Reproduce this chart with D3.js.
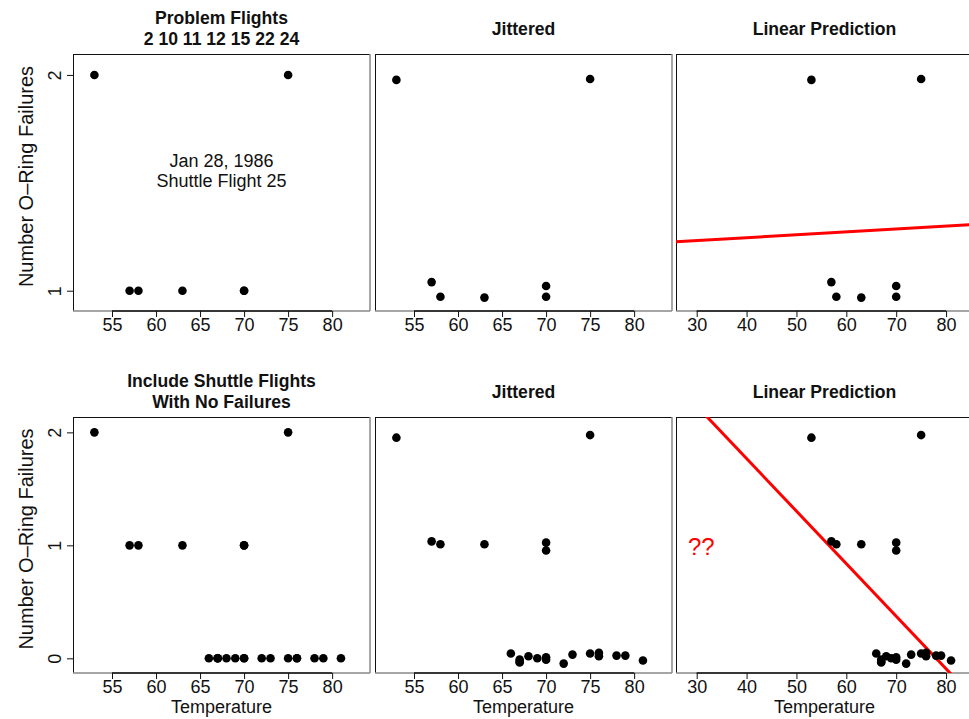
<!DOCTYPE html>
<html>
<head>
<meta charset="utf-8">
<script src="https://cdn.jsdelivr.net/npm/d3@7"></script>
<style>
  body { margin: 0; background: #fff; }
  text { font-family: "Liberation Sans", Arial, Helvetica, sans-serif; }
</style>
</head>
<body>
<svg id="chart" width="969" height="719"></svg>
<script>
// flights with at least one O-ring failure
const probTemp = [53, 57, 58, 63, 70, 70, 75];
const probFail = [2, 1, 1, 1, 1, 1, 2];
const probJit  = [1.977, 1.040, 0.972, 0.968, 1.022, 0.972, 1.981];

// all 23 flights before Jan 28, 1986 (sorted by temperature)
const allTemp = [53, 57, 58, 63, 66, 67, 67, 67, 68, 69, 70, 70, 70, 70, 72, 73, 75, 75, 76, 76, 78, 79, 81];
const allFail = [2, 1, 1, 1, 0, 0, 0, 0, 0, 0, 1, 1, 0, 0, 0, 0, 2, 0, 0, 0, 0, 0, 0];
const allJit  = [1.953, 1.035, 1.009, 1.009, 0.042, -0.010, -0.030, -0.036, 0.018, 0.000,
                 1.024, 0.954, 0.009, -0.012, -0.047, 0.033, 1.976, 0.042, 0.048, 0.018,
                 0.024, 0.024, -0.020];

// least squares lines: [temperature, failures] at both ends
const fitProb = [[25, 1.226], [86, 1.307]];
const fitAll  = [[25, 2.466], [86, -0.372]];

const xTicksNarrow = [55, 60, 65, 70, 75, 80];
const xTicksWide   = [30, 40, 50, 60, 70, 80];
const yTicksProb   = [1, 2];
const yTicksAll    = [0, 1, 2];

const note = ["Jan 28, 1986", "Shuttle Flight 25"];

const svg = d3.select("#chart");

// plot regions in pixels
const cols = [[73, 370], [375, 672], [676, 973]];
const rows = [[54, 311], [417, 673]];

// axis limits (R style, already padded)
const xNarrow = [50.57, 84.3];
const xWide = [25.85, 85.4];
const yProb = [0.906, 2.097];
const yAll = [-0.13, 2.136];

const panels = [
  {col: 0, row: 0, title: ["Problem Flights", "2 10 11 12 15 22 24"], xd: xNarrow, yd: yProb,
   xt: xTicksNarrow, yt: yTicksProb, tx: probTemp, ty: probFail},
  {col: 1, row: 0, title: ["Jittered"], xd: xNarrow, yd: yProb,
   xt: xTicksNarrow, tx: probTemp, ty: probJit},
  {col: 2, row: 0, title: ["Linear Prediction"], xd: xWide, yd: yProb,
   xt: xTicksWide, tx: probTemp, ty: probJit, fit: fitProb},
  {col: 0, row: 1, title: ["Include Shuttle Flights", "With No Failures"], xd: xNarrow, yd: yAll,
   xt: xTicksNarrow, yt: yTicksAll, tx: allTemp, ty: allFail},
  {col: 1, row: 1, title: ["Jittered"], xd: xNarrow, yd: yAll,
   xt: xTicksNarrow, tx: allTemp, ty: allJit},
  {col: 2, row: 1, title: ["Linear Prediction"], xd: xWide, yd: yAll,
   xt: xTicksWide, tx: allTemp, ty: allJit, fit: fitAll}
];

panels.forEach(function(p, i) {
  const [left, right] = cols[p.col];
  const [top, bottom] = rows[p.row];
  const x = d3.scaleLinear().domain(p.xd).range([left, right]);
  const y = d3.scaleLinear().domain(p.yd).range([bottom, top]);
  const g = svg.append("g");

  // clip for the fitted line
  g.append("clipPath").attr("id", "clip" + i)
    .append("rect").attr("x", left).attr("y", top)
    .attr("width", right - left).attr("height", bottom - top);

  // box: R antialiasing leaves right/bottom lighter
  g.append("line").attr("x1", left).attr("x2", right).attr("y1", top + 0.5).attr("y2", top + 0.5)
    .attr("stroke", "#111");
  g.append("line").attr("x1", left + 0.5).attr("x2", left + 0.5).attr("y1", top).attr("y2", bottom)
    .attr("stroke", "#111");
  g.append("line").attr("x1", right).attr("x2", right).attr("y1", top).attr("y2", bottom)
    .attr("stroke", "#888").attr("stroke-width", 1.5);
  g.append("line").attr("x1", left).attr("x2", right).attr("y1", bottom).attr("y2", bottom)
    .attr("stroke", "#888").attr("stroke-width", 1.5);

  // x axis, line only between first and last tick
  const xa = g.append("g").attr("transform", "translate(0," + bottom + ")")
    .call(d3.axisBottom(x).tickValues(p.xt).tickSize(6).tickPadding(1.5));
  xa.select(".domain").attr("d", "M" + x(p.xt[0]) + ",0H" + x(p.xt[p.xt.length - 1]))
    .attr("stroke", "#111").attr("stroke-width", 1.5);
  xa.selectAll(".tick line").attr("stroke", "#111");
  xa.selectAll("text").attr("font-size", 18).attr("fill", "#111")
    .style("font-family", "'Liberation Sans', Arial, sans-serif");

  if (p.yt) {
    const ya = g.append("g").attr("transform", "translate(" + left + ",0)")
      .call(d3.axisLeft(y).tickValues(p.yt).tickSize(6).tickFormat(d3.format("d")));
    ya.select(".domain").remove();
    ya.selectAll(".tick line").attr("stroke", "#111");
    ya.selectAll("text").attr("x", null).attr("dy", null)
      .attr("text-anchor", "middle").attr("font-size", 18).attr("fill", "#111")
      .attr("transform", "translate(-12,0) rotate(-90)")
      .style("font-family", "'Liberation Sans', Arial, sans-serif");
    // axis title
    g.append("text")
      .attr("transform", "translate(33," + ((top + bottom) / 2 - 6) + ") rotate(-90)")
      .attr("text-anchor", "middle").attr("font-size", 20).attr("fill", "#111")
      .text("Number O\u2013Ring Failures");
  }

  if (p.row === 1) {
    g.append("text").attr("x", (left + right) / 2).attr("y", bottom + 40)
      .attr("text-anchor", "middle").attr("font-size", 18).attr("fill", "#111")
      .text("Temperature");
  }

  // panel title
  const base = p.title.length === 2 ? [top - 30, top - 9] : [top - 19];
  p.title.forEach(function(t, k) {
    g.append("text").attr("x", (left + right) / 2).attr("y", base[k])
      .attr("text-anchor", "middle").attr("font-size", 17.6).attr("font-weight", "bold")
      .attr("fill", "#111").text(t);
  });

  if (p.fit) {
    g.append("path").datum(p.fit)
      .attr("clip-path", "url(#clip" + i + ")")
      .attr("d", d3.line().x(d => x(d[0])).y(d => y(d[1])))
      .attr("stroke", "#ff0000").attr("stroke-width", 3).attr("fill", "none");
  }

  g.selectAll("circle.pt").data(d3.range(p.tx.length)).join("circle")
    .attr("class", "pt")
    .attr("cx", k => x(p.tx[k]))
    .attr("cy", k => y(p.ty[k]))
    .attr("r", 4.3).attr("fill", "#000");

  if (i === 0) {
    note.forEach(function(t, k) {
      g.append("text").attr("x", (left + right) / 2).attr("y", 167 + k * 20)
        .attr("text-anchor", "middle").attr("font-size", 18).attr("fill", "#111").text(t);
    });
  }
  if (i === 5) {
    g.append("text").attr("x", left + 12).attr("y", y(1) + 10)
      .attr("font-size", 24).attr("fill", "#ff0000").text("??");
  }
});
</script>
</body>
</html>
